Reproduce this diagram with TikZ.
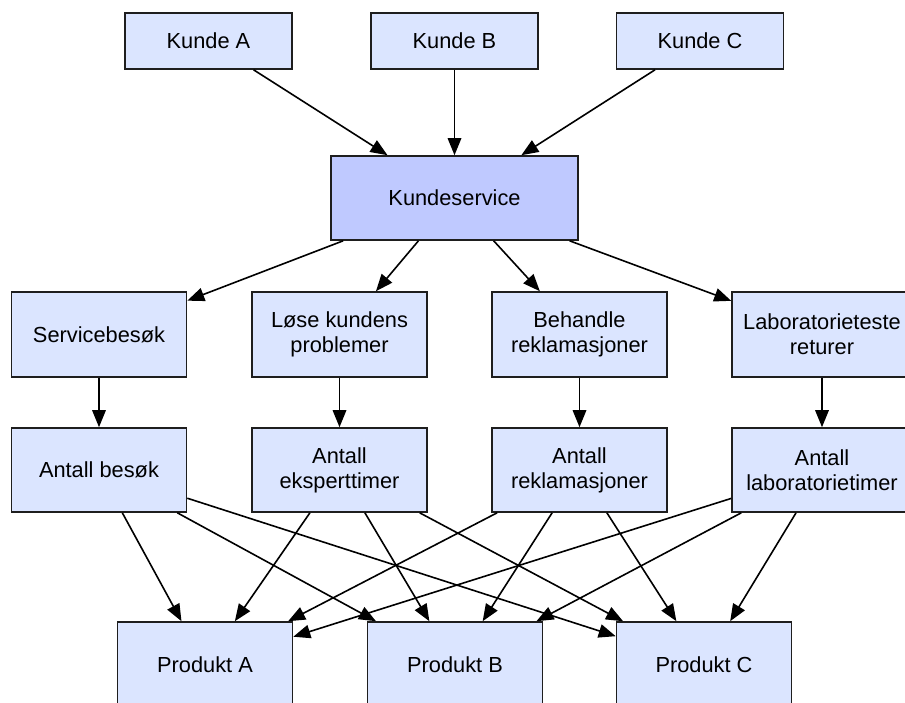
\documentclass[tikz,border=0pt]{standalone}
\usepackage{fontspec}
\setmainfont{Liberation Sans}
\usetikzlibrary{arrows.meta}

\definecolor{boxfill}{RGB}{219,229,255}
\definecolor{hubfill}{RGB}{191,201,255}
\definecolor{boxline}{RGB}{30,30,30}

\tikzset{
  box/.style={draw=boxline, line width=1.6pt, fill=boxfill, inner sep=0pt,
    minimum width=175pt, minimum height=85pt, align=center,
    font=\fontsize{21.8}{25}\selectfont},
  kunde/.style={box, minimum width=167pt, minimum height=56pt},
  hub/.style={box, fill=hubfill, minimum width=247pt, minimum height=84pt},
  link/.style={line width=1.6pt, -{Triangle[length=17pt,width=13.5pt]}},
}

\begin{document}
\begin{tikzpicture}[x=1pt,y=-1pt]
\useasboundingbox (0,0) rectangle (905,702);
\fill[white] (0,0) rectangle (905,702);
\clip (0,0) rectangle (905,702);

% customers
\node[kunde] (ka) at (208.5,41) {Kunde A};
\node[kunde] (kb) at (454.5,41) {Kunde B};
\node[kunde] (kc) at (700,41) {Kunde C};

% customer service
\node[hub] (ks) at (454.5,198) {Kundeservice};

% activities
\node[box] (a1) at (99,334.5) {Servicebesøk};
\node[box] (a2) at (339.5,334.5) {Løse kundens\\problemer};
\node[box] (a3) at (579.5,334.5) {Behandle\\reklamasjoner};
\node[box, minimum width=180pt] (a4) at (822,334.5) {Laboratorieteste\\returer};

% cost drivers
\node[box, minimum height=84pt] (d1) at (99,470) {Antall besøk};
\node[box, minimum height=84pt] (d2) at (339.5,470) {Antall\\eksperttimer};
\node[box, minimum height=84pt] (d3) at (579.5,470) {Antall\\reklamasjoner};
\node[box, minimum height=84pt, minimum width=180pt] (d4) at (822,470) {Antall\\laboratorietimer};

% products
\node[box] (pa) at (205,664.5) {Produkt A};
\node[box] (pb) at (455,664.5) {Produkt B};
\node[box] (pc) at (704,664.5) {Produkt C};

% customers to service
\foreach \k in {ka,kb,kc} \draw[link] (\k) -- (ks);

% service to activities, activities to drivers
\foreach \i in {1,2,3,4} {
  \draw[link] (ks) -- (a\i);
  \draw[link] (a\i) -- (d\i);
}

% drivers to products
\foreach \i in {1,2,3,4}
  \foreach \p in {pa,pb,pc}
    \draw[link] (d\i) -- (\p);
\end{tikzpicture}
\end{document}
